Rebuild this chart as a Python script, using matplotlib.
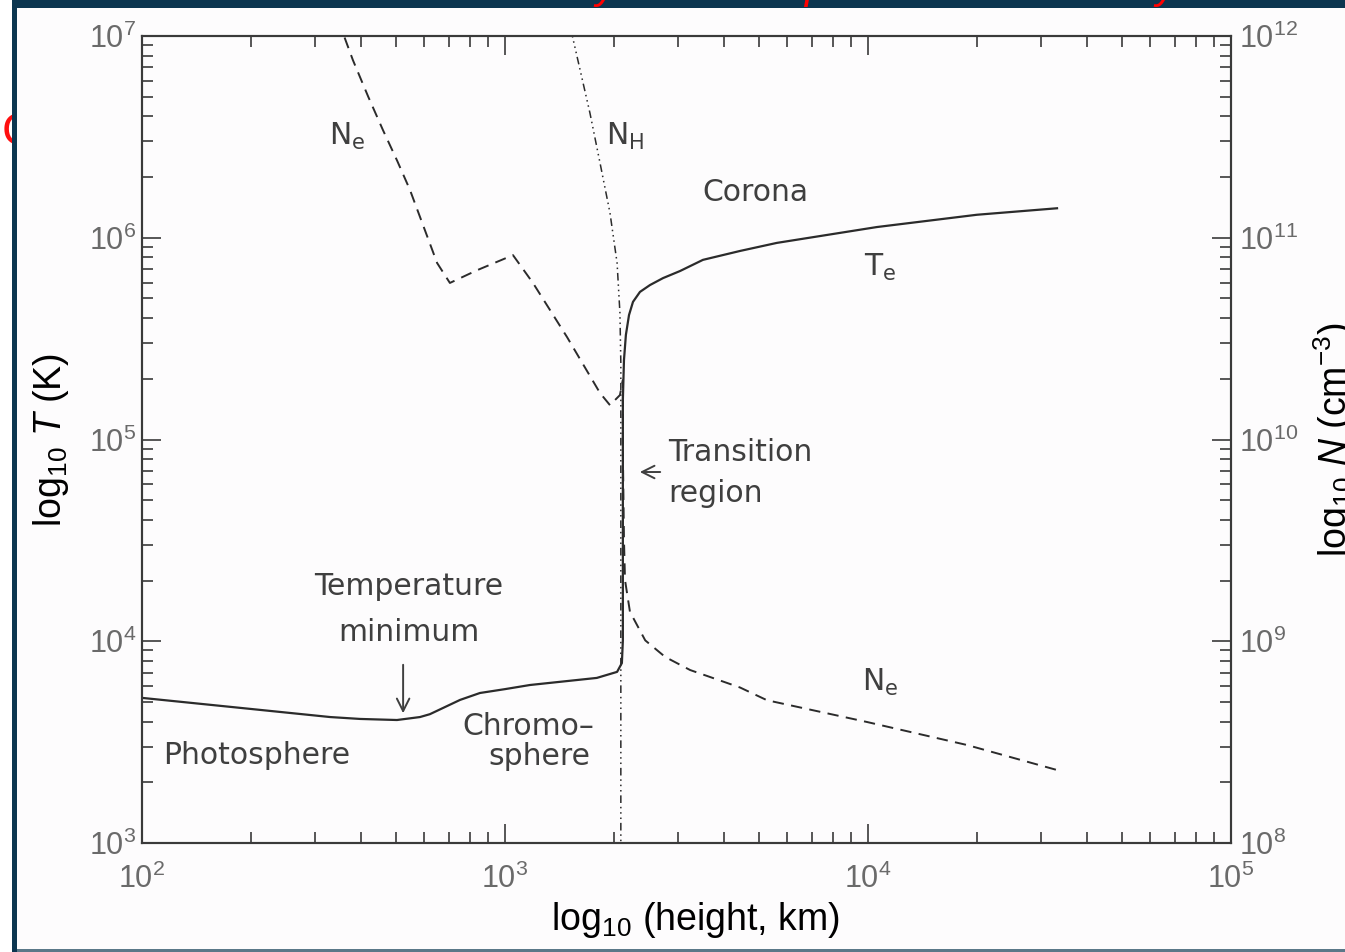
import matplotlib.pyplot as plt
from matplotlib.patches import Rectangle
from matplotlib.ticker import NullFormatter

plt.rcParams['font.family'] = ['Liberation Sans', 'DejaVu Sans']
plt.rcParams['mathtext.fontset'] = 'custom'
plt.rcParams['mathtext.rm'] = 'Liberation Sans'
plt.rcParams['mathtext.it'] = 'Liberation Sans:italic'
plt.rcParams['mathtext.bf'] = 'Liberation Sans:bold'

# electron temperature vs height (km, K)
height_te = [100, 175, 330, 399, 504, 583, 621, 752, 853, 1000, 1172, 1790, 2036,
             2099, 2112, 2112, 2112, 2127, 2153, 2196, 2252, 2354, 2509, 2725,
             3035, 3510, 4440, 5610, 10580, 19950, 33170]
temp_te = [5240, 4730, 4210, 4120, 4070, 4210, 4350, 5120, 5540, 5790, 6070, 6580,
           7050, 7800, 10100, 88700, 157000, 248000, 330000, 414000, 481000,
           539000, 583000, 631000, 684000, 777000, 860000, 943000, 1.13e6,
           1.30e6, 1.40e6]

# electron density (cm^-3)
height_ne = [347, 381, 420, 461, 505, 547, 650, 705, 837, 1052, 1194, 1482, 1827,
             1946, 2073, 2112, 2112, 2127, 2141, 2209, 2434, 2762, 3236, 4440,
             5270, 9930, 18740, 33170]
dens_ne = [1.2e12, 7.6e11, 5.0e11, 3.42e11, 2.4e11, 1.73e11, 7.5e10, 5.97e10,
           6.9e10, 8.2e10, 5.97e10, 3.22e10, 1.70e10, 1.48e10, 1.66e10, 1.97e10,
           8.9e9, 3.18e9, 2.01e9, 1.40e9, 1.01e9, 8.36e8, 7.2e8, 5.9e8, 5.1e8,
           3.98e8, 3.06e8, 2.30e8]

# neutral hydrogen density (cm^-3)
height_nh = [1520, 1714, 1827, 1946, 2036, 2073, 2085, 2085]
dens_nh = [1.07e12, 4.15e11, 2.35e11, 1.33e11, 7.5e10, 4.24e10, 2.39e10, 5e7]

x_ticks = [1e2, 1e3, 1e4, 1e5]
t_ticks = [1e3, 1e4, 1e5, 1e6, 1e7]
n_ticks = [1e8, 1e9, 1e10, 1e11, 1e12]

line_col = '#2b2b2b'
note_col = '#3f3f3f'
tick_col = '#6a6a6a'
navy = '#0c3650'

fig = plt.figure(figsize=(13.45, 9.52), dpi=100)
fig.patch.set_facecolor('white')

# slide frame behind the chart
fig.text(2 / 1345, 1 - 133 / 952, 'C', color='#ff1010', fontsize=34,
         ha='left', va='center', zorder=-3)
fig.patches.append(Rectangle((17 / 1345, 0), 1, 1 - 8 / 952, transform=fig.transFigure,
                             facecolor='#fdfcfd', edgecolor='none', zorder=-2))
fig.patches.append(Rectangle((12 / 1345, 1 - 8 / 952), 1, 8 / 952, transform=fig.transFigure,
                             facecolor=navy, edgecolor='none', zorder=-1))
fig.patches.append(Rectangle((12 / 1345, 0), 5 / 1345, 1, transform=fig.transFigure,
                             facecolor=navy, edgecolor='none', zorder=-1))
fig.patches.append(Rectangle((17 / 1345, 0), 1, 3 / 952, transform=fig.transFigure,
                             facecolor='#5a7888', edgecolor='none', zorder=-1))
# bottom of the slide title poking in above the chart
for xp, ch in [(606, 'y'), (816, 'p'), (1166, 'y')]:
    fig.text(xp / 1345, 1 + 2 / 952, ch, color='#ff0000', fontsize=30,
             style='italic', ha='center', va='baseline', zorder=1)

ax = fig.add_axes([142 / 1345, 109 / 952, 1089 / 1345, 807 / 952])
ax.set_facecolor('#fdfcfd')
ax2 = ax.twinx()

ax.plot(height_te, temp_te, color=line_col, lw=1.6, solid_joinstyle='round')
ax2.plot(height_ne, dens_ne, color=line_col, lw=1.4, dashes=(5.8, 3.8))
ax2.plot(height_nh, dens_nh, color=line_col, lw=1.1,
         dashes=(5, 2.5, 1, 2.5, 1, 2.5, 1, 2.5))

ax.set_xscale('log')
ax.set_yscale('log')
ax2.set_yscale('log')
ax.set_xlim(1e2, 1e5)
ax.set_ylim(1e3, 1e7)
ax2.set_ylim(1e8, 1e12)
ax.set_xticks(x_ticks)
ax.set_yticks(t_ticks)
ax2.set_yticks(n_ticks)
for a in (ax, ax2):
    a.xaxis.set_minor_formatter(NullFormatter())
    a.yaxis.set_minor_formatter(NullFormatter())
    for s in a.spines.values():
        s.set_linewidth(1.5)
        s.set_color('#3a3a3a')

ax.tick_params(which='both', direction='in', top=True, right=False,
               color='#3a3a3a', width=1.2, labelcolor=tick_col, labelsize=22)
ax.tick_params(which='major', length=14)
ax.tick_params(which='minor', length=8)
ax.tick_params(axis='x', pad=15)
ax.tick_params(axis='y', pad=4)
ax2.tick_params(which='both', direction='in', color='#3a3a3a', width=1.2,
                labelcolor=tick_col, labelsize=22, pad=6)
ax2.tick_params(which='major', length=14)
ax2.tick_params(which='minor', length=8)

fig.text(695 / 1345, 1 - 920 / 952, r'log$_{10}$ (height, km)', fontsize=27,
         ha='center', va='center')
fig.text(51 / 1345, 1 - 440 / 952, r'log$_{10}$ $T$ (K)', fontsize=27,
         rotation=90, ha='center', va='center')
fig.text(1334 / 1345, 1 - 440 / 952, r'log$_{10}$ $N$ (cm$^{-3}$)', fontsize=27,
         rotation=90, ha='center', va='center')

# region labels
note = dict(color=note_col, fontsize=21.5, family='DejaVu Sans', va='center')
ax.text(367, 3.16e6, r'$\mathdefault{N_e}$', ha='center', **note)
ax.text(2143, 3.16e6, r'$\mathdefault{N_H}$', ha='center', **note)
ax.text(4890, 1.67e6, 'Corona', ha='center', **note)
ax.text(10790, 7.16e5, r'$\mathdefault{T_e}$', ha='center', **note)
ax.text(2810, 86700, 'Transition', ha='left', **note)
ax.text(2810, 54300, 'region', ha='left', **note)
ax.text(544, 18600, 'Temperature', ha='center', **note)
ax.text(544, 11000, 'minimum', ha='center', **note)
ax.text(1157, 3760, 'Chromo\u2013', ha='center', **note)
ax.text(1241, 2670, 'sphere', ha='center', **note)
ax.text(207, 2730, 'Photosphere', ha='center', **note)
ax.text(10790, 6280, r'$\mathdefault{N_e}$', ha='center', **note)

arrow = dict(arrowstyle='->,head_length=0.9,head_width=0.45', lw=1.4, color=note_col)
ax.annotate('', xy=(2311, 69000), xytext=(2724, 69000), arrowprops=arrow)
ax.annotate('', xy=(524, 4260), xytext=(524, 7890), arrowprops=arrow)

fig.savefig('out.png', dpi=100, facecolor=fig.get_facecolor())
